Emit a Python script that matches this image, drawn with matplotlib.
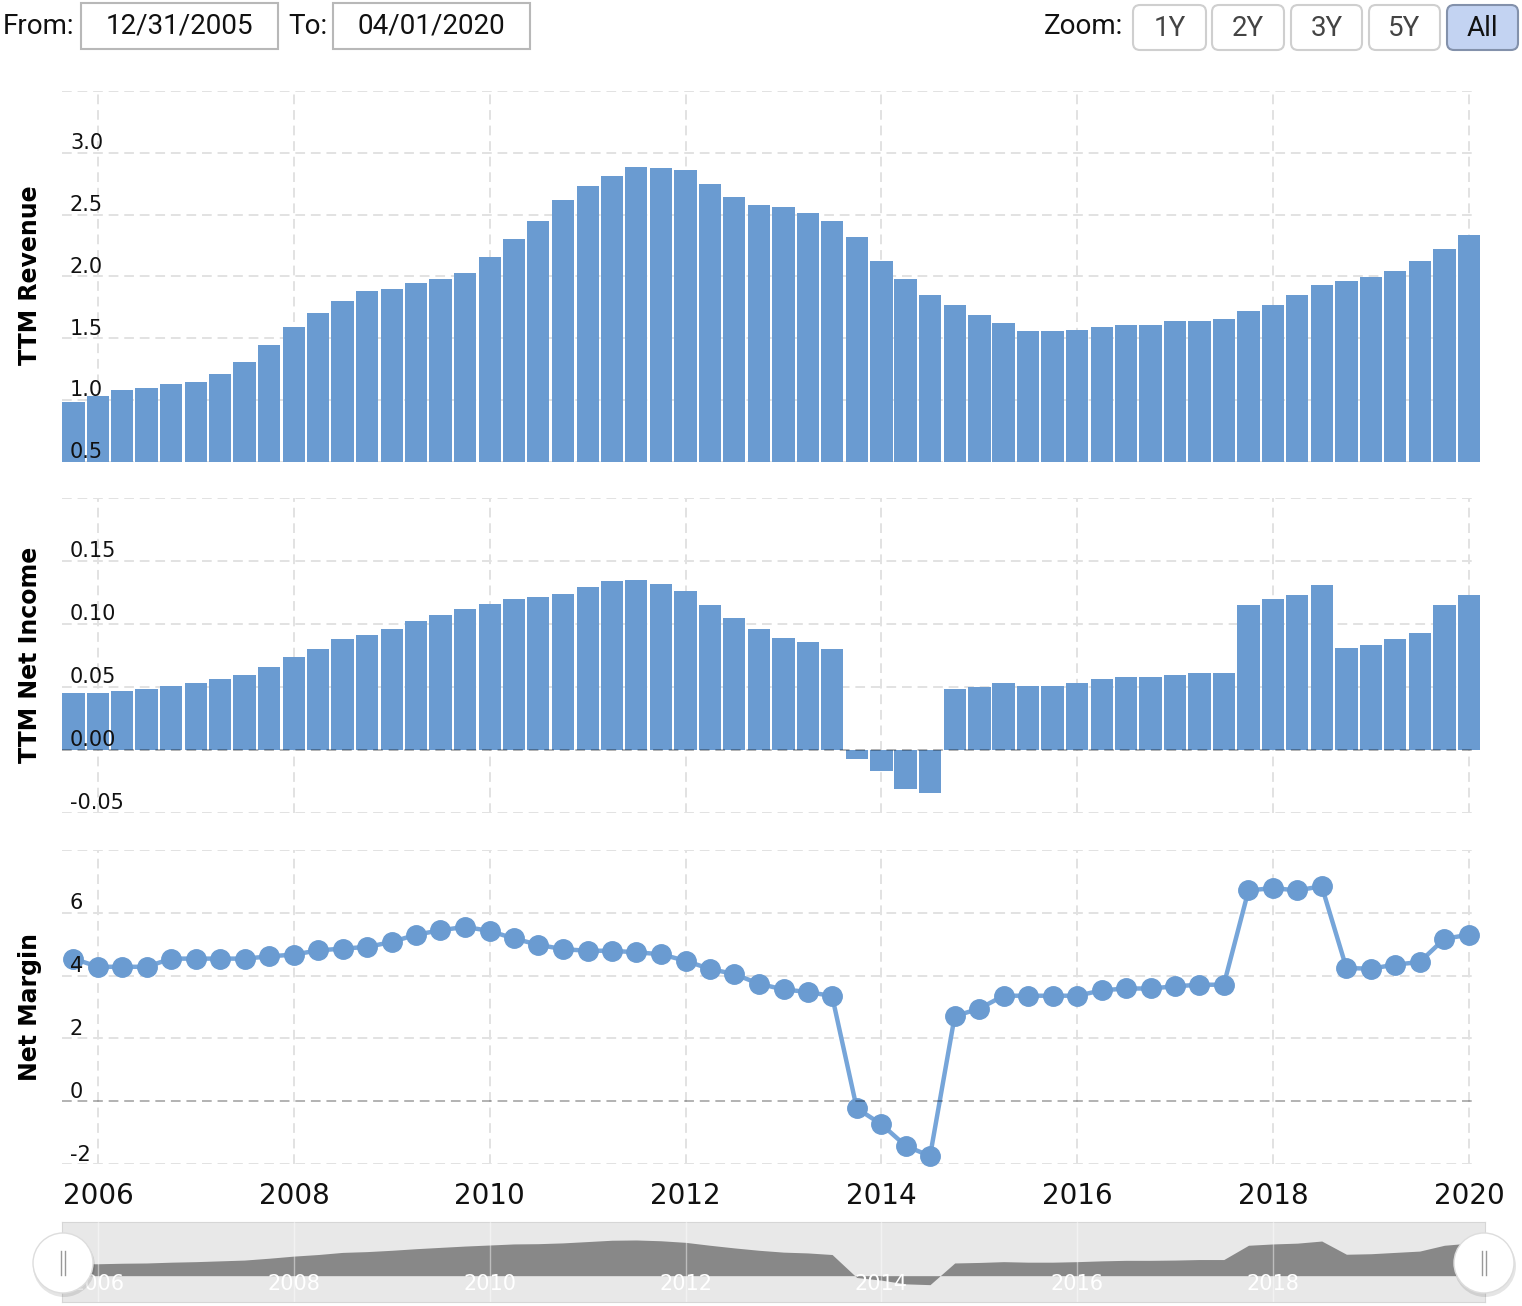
import numpy as np
import pandas as pd
import matplotlib
matplotlib.use("Agg")
import matplotlib.pyplot as plt
from matplotlib import transforms
from matplotlib.patches import Rectangle, FancyBboxPatch, Circle

W, H = 1522, 1306

# quarter ends, TTM figures
quarters = pd.date_range("2005-09-30", "2019-12-31", freq="QE")

revenue = [0.985, 1.033, 1.082, 1.099, 1.131, 1.148, 1.213, 1.311, 1.441, 1.588,
           1.702, 1.800, 1.881, 1.897, 1.946, 1.979, 2.028, 2.158, 2.305, 2.450,
           2.615, 2.730, 2.810, 2.890, 2.877, 2.860, 2.745, 2.647, 2.580, 2.566,
           2.517, 2.450, 2.320, 2.125, 1.980, 1.850, 1.767, 1.686, 1.620, 1.555,
           1.555, 1.570, 1.587, 1.603, 1.603, 1.636, 1.636, 1.652, 1.717, 1.766,
           1.848, 1.930, 1.962, 1.995, 2.044, 2.125, 2.220, 2.337]

net_income = [0.045, 0.045, 0.047, 0.048, 0.051, 0.053, 0.056, 0.059, 0.066, 0.074,
              0.080, 0.088, 0.091, 0.096, 0.102, 0.107, 0.112, 0.116, 0.120, 0.121,
              0.124, 0.129, 0.134, 0.135, 0.132, 0.126, 0.115, 0.105, 0.096, 0.089,
              0.086, 0.080, -0.007, -0.017, -0.031, -0.034, 0.048, 0.050, 0.053, 0.051,
              0.051, 0.053, 0.056, 0.058, 0.058, 0.059, 0.061, 0.061, 0.115, 0.120,
              0.123, 0.131, 0.081, 0.083, 0.088, 0.093, 0.115, 0.123]

net_margin = [4.54, 4.28, 4.28, 4.28, 4.54, 4.54, 4.54, 4.54, 4.61, 4.67,
              4.80, 4.86, 4.91, 5.07, 5.30, 5.44, 5.55, 5.42, 5.18, 4.98,
              4.84, 4.79, 4.79, 4.74, 4.68, 4.47, 4.21, 4.05, 3.74, 3.56,
              3.48, 3.35, -0.22, -0.73, -1.41, -1.74, 2.71, 2.95, 3.36, 3.36,
              3.36, 3.36, 3.53, 3.59, 3.59, 3.66, 3.71, 3.71, 6.71, 6.78,
              6.71, 6.84, 4.24, 4.22, 4.35, 4.43, 5.17, 5.30]

year_ticks = [2006, 2008, 2010, 2012, 2014, 2016, 2018, 2020]
rev_ticks = [0.5, 1.0, 1.5, 2.0, 2.5, 3.0]
ni_ticks = [-0.05, 0.00, 0.05, 0.10, 0.15]
margin_ticks = [-2, 0, 2, 4, 6]

BAR = "#6a9bd1"
LINE = "#76a5d9"
GRID = "#e2e2e2"
XMIN, XMAX = 2005.632, 2020.112

t = quarters.year + quarters.dayofyear / np.where(quarters.is_leap_year, 366, 365)

fig = plt.figure(figsize=(W / 100, H / 100), dpi=100)


def px_axes(l, tp, r, b):
    return fig.add_axes([l / W, 1 - b / H, (r - l) / W, (b - tp) / H])


def style_panel(ax, ylim, ticks, top_grid, fmt, zero=False):
    ax.set_xlim(XMIN, XMAX)
    ax.set_ylim(*ylim)
    for s in ax.spines.values():
        s.set_visible(False)
    ax.set_xticks([])
    ax.set_yticks([])
    ax.patch.set_alpha(0)
    for yr in year_ticks:
        ax.axvline(yr, color=GRID, lw=1.4, ls=(0, (5, 3)), zorder=0)
    for v in ticks + [top_grid]:
        if zero and v == 0:
            ax.axhline(v, color="black", alpha=0.3, lw=1.4, ls=(0, (5, 3)),
                       xmax=0.9965, zorder=4)
        else:
            ax.axhline(v, color=GRID, lw=1.4, ls=(0, (5, 3)), xmax=0.9965, zorder=0)
    trans = transforms.offset_copy(ax.get_yaxis_transform(), fig=fig, y=2.5, units="points")
    for v in ticks:
        ax.text(0.0056, v, fmt.format(v), transform=trans, ha="left", va="baseline",
                fontsize=15, color="#111111", zorder=6)


# TTM revenue
ax_r = px_axes(62, 91.2, 1480, 461.7)
ax_r.bar(t, revenue, width=0.228, color=BAR, zorder=2)
style_panel(ax_r, (0.5, 3.5), rev_ticks, 3.5, "{:.1f}")

# TTM net income
ax_n = px_axes(62, 498, 1480, 812.7)
ax_n.bar(t, net_income, width=0.228, color=BAR, zorder=2)
style_panel(ax_n, (-0.05, 0.20), ni_ticks, 0.20, "{:.2f}", zero=True)

# net margin
ax_m = px_axes(62, 849.8, 1480, 1164.3)
ax_m.plot(t, net_margin, color=LINE, lw=3.2, marker="o", ms=14, mfc=BAR, mec=BAR,
          zorder=3, clip_on=False)
style_panel(ax_m, (-2, 8), margin_ticks, 8, "{:.0f}", zero=True)
ax_m.set_xticks(year_ticks)
ax_m.set_xticklabels([str(y) for y in year_ticks], fontsize=20, color="#111111")
ax_m.tick_params(axis="x", length=0, pad=13)

fig.text(30 / W, 1 - 275 / H, "TTM Revenue", rotation=90, fontsize=17,
         fontweight="bold", ha="center", va="center")
fig.text(30 / W, 1 - 655 / H, "TTM Net Income", rotation=90, fontsize=17,
         fontweight="bold", ha="center", va="center")
fig.text(30 / W, 1 - 1007 / H, "Net Margin", rotation=90, fontsize=17,
         fontweight="bold", ha="center", va="center")

# navigator
nav = px_axes(62, 1222, 1485, 1302)
nav.set_facecolor("#e8e8e8")
nav.fill_between(t, net_income, 0, color="#888888", lw=0, zorder=2)
nav.set_xlim(2005.632, 2020.163)
nav.set_ylim(-0.0996, 0.203)
nav.set_xticks([])
nav.set_yticks([])
for s in nav.spines.values():
    s.set_color("#d6d6d6")
for yr in year_ticks[:-1]:
    nav.axvline(yr, color="white", alpha=0.45, lw=1, zorder=3)
    nav.text(yr, 0.225, str(yr), transform=nav.get_xaxis_transform(), ha="center",
             va="center", fontsize=15, color="white", zorder=4)

# overlay: header and navigator handles
ov = fig.add_axes([0, 0, 1, 1], zorder=10)
ov.set_xlim(0, W)
ov.set_ylim(H, 0)
ov.axis("off")

hfont = dict(family="Roboto", fontsize=20, va="center")
ov.text(3, 26, "From:", ha="left", color="#111111", **hfont)
ov.add_patch(Rectangle((81, 3), 197, 46, fc="white", ec="#b8b8b8", lw=1.5))
ov.text(179.5, 26, "12/31/2005", ha="center", color="#111111", **hfont)
ov.text(288, 26, "To:", ha="left", color="#111111", **hfont)
ov.add_patch(Rectangle((333, 3), 197, 46, fc="white", ec="#b8b8b8", lw=1.5))
ov.text(431.5, 26, "04/01/2020", ha="center", color="#111111", **hfont)

ov.text(1044, 27, "Zoom:", ha="left", color="#111111", **hfont)
buttons = [(1133, 1206, "1Y"), (1212, 1284, "2Y"), (1291, 1362, "3Y"),
           (1369, 1440, "5Y"), (1447, 1518, "All")]
for x0, x1, lab in buttons:
    sel = lab == "All"
    ov.add_patch(FancyBboxPatch((x0, 5), x1 - x0, 45,
                                boxstyle="round,pad=0,rounding_size=7",
                                fc="#c3d3f2" if sel else "white",
                                ec="#8391ab" if sel else "#cfcfcf", lw=1.5))
    ov.text((x0 + x1) / 2, 28, lab, ha="center",
            color="#111111" if sel else "#444444", **hfont)

for cx in (63, 1484):
    ov.add_patch(Circle((cx + 1, 1266), 31, fc="black", alpha=0.10, lw=0))
    ov.add_patch(Circle((cx, 1263), 30, fc="white", ec="#dddddd", lw=1))
    ov.plot([cx - 2, cx - 2], [1251, 1275], color="#999999", lw=1)
    ov.plot([cx + 2, cx + 2], [1251, 1275], color="#999999", lw=1)

fig.savefig("out.png", dpi=100)
